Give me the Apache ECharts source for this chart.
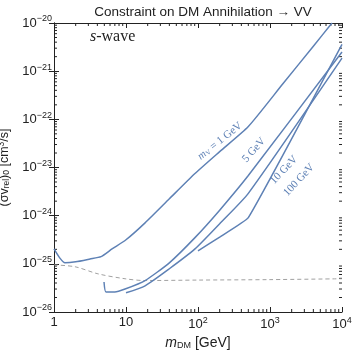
<!DOCTYPE html>
<html>
<head>
<meta charset="utf-8">
<script src="https://cdn.jsdelivr.net/npm/echarts@6/dist/echarts.min.js"></script>
<style>
  html, body { margin: 0; padding: 0; background: #fff; }
  #chart { width: 354px; height: 351px; }
</style>
</head>
<body>
<div id="chart"></div>
<script>
// m_V = 1 GeV
var mass1 = [1, 1.2, 1.42, 2, 3.16, 4.5, 6.4, 10, 18.4, 40, 90.8, 200, 500, 1500, 4000, 7264];
var sigma1 = [2.04e-25, 1.33e-25, 1.05e-25, 1.1e-25, 1.26e-25, 1.41e-25, 2.04e-25, 3.16e-25, 7.1e-25, 2.24e-24, 7.5e-24, 2.14e-23, 7.1e-23, 5.4e-22, 3.3e-21, 1e-20];
// m_V = 5 GeV
var mass5 = [4.95, 5.27, 7.0, 9.7, 18.4, 40, 90.8, 200, 500, 10000];
var sigma5 = [4.2e-26, 2.6e-26, 2.6e-26, 3.0e-26, 4.5e-26, 1.05e-25, 3.5e-25, 1.3e-24, 6.8e-24, 2.5e-21];
// m_V = 10 GeV
var mass10 = [10, 18.4, 40, 90.8, 200, 500, 10000];
var sigma10 = [2.5e-26, 3.5e-26, 7.9e-26, 2.04e-25, 6.8e-25, 2.9e-24, 1.86e-21];
// m_V = 100 GeV
var mass100 = [100, 200, 500, 10000];
var sigma100 = [1.86e-25, 3.6e-25, 9.1e-25, 3.6e-21];
// dashed reference line
var massRef = [1, 1.96, 4.08, 9.7, 18.4, 100, 1000, 10000];
var sigmaRef = [9.5e-26, 8.7e-26, 6.2e-26, 4.9e-26, 4.5e-26, 4.6e-26, 4.7e-26, 4.9e-26];

var curveLabels = ['{it|m}{sub|V} = 1 GeV', '5 GeV', '10 GeV', '100 GeV'];

// axes run in log10 units
var xMinor = [];
[0, 1, 2, 3].forEach(function (d) { for (var k = 2; k <= 9; k++) xMinor.push(d + Math.log10(k)); });
var yMinor = [];
for (var e = -26; e < -20; e++) { for (var k = 2; k <= 9; k++) yMinor.push(e + Math.log10(k)); }

function logPairs(a, b) { return a.map(function (v, i) { return [Math.log10(v), Math.log10(b[i])]; }); }

var blue = '#5E81B5';
var sansFont = '"Liberation Sans", Arial, sans-serif';
var serifFont = '"Liberation Serif", "Times New Roman", serif';

function supLabel(v) {
  var e = Math.round(v);
  if (e === 0) return '1';
  if (e === 1) return '10';
  return '10{s|' + String(e).replace('-', '\u2212') + '}';
}
var labelRich = {
  s: { fontSize: 9, fontFamily: sansFont, color: '#222', padding: [0, 0, 8, 0] }
};

var myChart = echarts.init(document.getElementById('chart'));
var option = {
  animation: false,
  title: {
    text: 'Constraint on DM Annihilation \u2192 VV',
    left: 198,
    textAlign: 'center',
    top: 0,
    textStyle: { fontSize: 13.5, fontWeight: 'normal', color: '#222', fontFamily: sansFont }
  },
  grid: { left: 54, right: 12, top: 23, bottom: 39, containLabel: false, outerBoundsMode: 'none' },
  xAxis: [
    {
      type: 'value', min: 0, max: 4, interval: 1, position: 'bottom',
      axisLine: { lineStyle: { color: '#222', width: 1 } },
      axisTick: { inside: true, length: 5, lineStyle: { color: '#222' } },
      splitLine: { show: false },
      axisLabel: { formatter: supLabel, rich: labelRich, fontSize: 13, color: '#222', fontFamily: sansFont, margin: 4 },
      name: '{it|m}{sub|DM} [GeV]',
      nameLocation: 'middle', nameGap: 22,
      nameTextStyle: {
        fontSize: 14, color: '#222', fontFamily: sansFont,
        rich: {
          it: { fontSize: 14, fontStyle: 'italic', fontFamily: sansFont, color: '#222' },
          sub: { fontSize: 9, fontFamily: sansFont, color: '#222', padding: [6, 0, 0, 0] }
        }
      }
    },
    {
      type: 'value', min: 0, max: 4, interval: 1, position: 'top',
      axisLine: { lineStyle: { color: '#222', width: 1 } },
      axisTick: { inside: true, length: 5, lineStyle: { color: '#222' } },
      axisLabel: { show: false }, splitLine: { show: false }
    }
  ],
  yAxis: [
    {
      type: 'value', min: -26, max: -20, interval: 1, position: 'left',
      axisLine: { show: true, lineStyle: { color: '#222', width: 1 } },
      axisTick: { show: true, inside: true, length: 5, lineStyle: { color: '#222' } },
      splitLine: { show: false },
      axisLabel: { formatter: supLabel, rich: labelRich, fontSize: 13, color: '#222', fontFamily: sansFont, margin: 2 },
      name: '(\u03C3v{sub|rel}){sub|0} [cm{sup|3}/s]',
      nameLocation: 'middle', nameGap: 27,
      nameTextStyle: {
        fontSize: 12.5, color: '#222', fontFamily: sansFont,
        rich: {
          sub: { fontSize: 8.5, fontFamily: sansFont, color: '#222', padding: [5, 0, 0, 0] },
          sup: { fontSize: 8.5, fontFamily: sansFont, color: '#222', padding: [0, 0, 6, 0] }
        }
      }
    },
    {
      type: 'value', min: -26, max: -20, interval: 1, position: 'right',
      axisLine: { show: true, lineStyle: { color: '#222', width: 1 } },
      axisTick: { show: true, inside: true, length: 5, lineStyle: { color: '#222' } },
      axisLabel: { show: false }, splitLine: { show: false }
    }
  ],
  graphic: [
    {
      type: 'text', x: 90, y: 29,
      style: {
        text: '{i|s}-wave', fill: '#222', font: '16px ' + serifFont,
        rich: { i: { fontStyle: 'italic', fontSize: 16, fontFamily: serifFont, fill: '#222' } }
      }
    },
    {
      type: 'text', x: 220, y: 141, rotation: 0.675,
      style: {
        text: curveLabels[0], fill: blue, font: '11px ' + serifFont, align: 'center', verticalAlign: 'middle',
        rich: {
          it: { fontStyle: 'italic', fontSize: 11, fontFamily: serifFont, fill: blue },
          sub: { fontSize: 7, fontFamily: serifFont, fill: blue, padding: [4, 0, 0, 0] }
        }
      }
    },
    { type: 'text', x: 254, y: 150, rotation: 0.85, style: { text: curveLabels[1], fill: blue, font: '11px ' + serifFont, align: 'center', verticalAlign: 'middle' } },
    { type: 'text', x: 284, y: 170, rotation: 0.82, style: { text: curveLabels[2], fill: blue, font: '11px ' + serifFont, align: 'center', verticalAlign: 'middle' } },
    { type: 'text', x: 299, y: 180, rotation: 0.82, style: { text: curveLabels[3], fill: blue, font: '11px ' + serifFont, align: 'center', verticalAlign: 'middle' } }
  ],
  series: [
    {
      type: 'line', data: logPairs(massRef, sigmaRef), showSymbol: false, smooth: 0.3,
      lineStyle: { color: '#a0a0a0', width: 1, type: [4, 3] }
    },
    { type: 'line', data: logPairs(mass1, sigma1), showSymbol: false, smooth: 0.2, lineStyle: { color: blue, width: 1.5 } },
    { type: 'line', data: logPairs(mass5, sigma5), showSymbol: false, smooth: 0.2, lineStyle: { color: blue, width: 1.5 } },
    { type: 'line', data: logPairs(mass10, sigma10), showSymbol: false, smooth: 0.2, lineStyle: { color: blue, width: 1.5 } },
    { type: 'line', data: logPairs(mass100, sigma100), showSymbol: false, smooth: 0.1, lineStyle: { color: blue, width: 1.5 } },
    {
      // minor ticks on bottom/top
      type: 'custom', silent: true, clip: false,
      data: xMinor.map(function (v) { return [v, -26]; }),
      renderItem: function (params, api) {
        var b = api.coord([api.value(0), -26]);
        var t = api.coord([api.value(0), -20]);
        var st = { stroke: '#222', lineWidth: 1 };
        return { type: 'group', children: [
          { type: 'line', shape: { x1: b[0], y1: b[1], x2: b[0], y2: b[1] - 3 }, style: st },
          { type: 'line', shape: { x1: t[0], y1: t[1], x2: t[0], y2: t[1] + 3 }, style: st }
        ] };
      }
    },
    {
      // minor ticks on left/right
      type: 'custom', silent: true, clip: false,
      data: yMinor.map(function (v) { return [0, v]; }),
      renderItem: function (params, api) {
        var l = api.coord([0, api.value(1)]);
        var r = api.coord([4, api.value(1)]);
        var st = { stroke: '#222', lineWidth: 1 };
        return { type: 'group', children: [
          { type: 'line', shape: { x1: l[0], y1: l[1], x2: l[0] + 3, y2: l[1] }, style: st },
          { type: 'line', shape: { x1: r[0], y1: r[1], x2: r[0] - 3, y2: r[1] }, style: st }
        ] };
      }
    }
  ]
};
myChart.setOption(option);
window.addEventListener('resize', function () { myChart.resize(); });
</script>
</body>
</html>
